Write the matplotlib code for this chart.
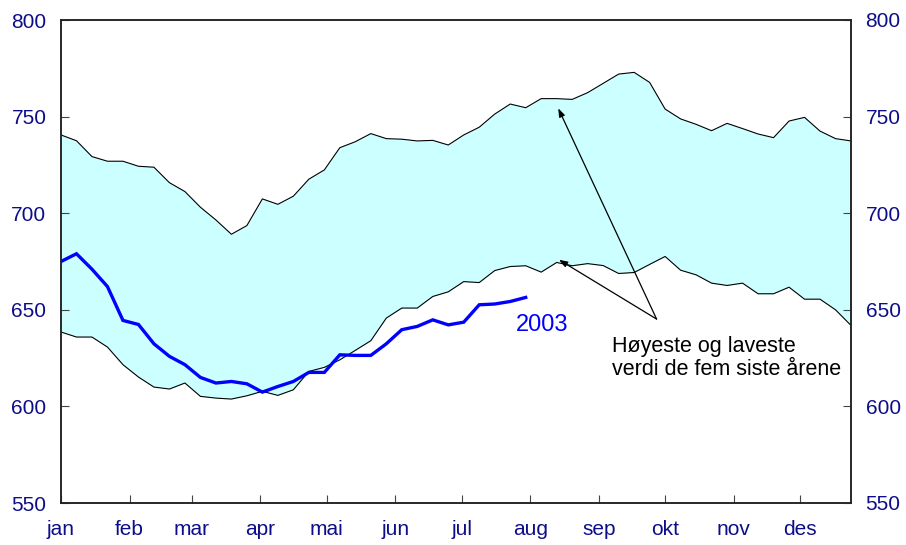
import numpy as np
import matplotlib
matplotlib.use("Agg")
import matplotlib.pyplot as plt

plt.rcParams['font.family'] = ['Liberation Sans', 'DejaVu Sans']

# Weekly values, weeks 1-52
upper = [740.5, 737.5, 729.3, 726.9, 726.9, 724.3, 723.8, 715.8, 711.2, 703.1,
         696.5, 689.1, 693.6, 707.4, 704.6, 708.8, 717.6, 722.4, 733.9, 737.0,
         741.2, 738.6, 738.3, 737.4, 737.7, 735.3, 740.5, 744.5, 751.3, 756.5,
         754.6, 759.3, 759.3, 758.9, 762.4, 767.2, 772.0, 772.9, 767.7, 753.9,
         748.8, 746.0, 742.7, 746.5, 743.8, 741.0, 739.1, 747.7, 749.6, 742.5,
         738.6, 737.4]
lower = [638.5, 635.9, 635.9, 630.7, 621.6, 615.2, 610.0, 609.0, 612.1, 605.2,
         604.3, 603.8, 605.5, 607.8, 605.7, 608.6, 618.1, 620.2, 624.1, 629.0,
         634.0, 645.7, 650.9, 650.9, 656.9, 659.3, 664.6, 664.1, 670.3, 672.4,
         672.8, 669.5, 674.5, 672.8, 673.9, 672.9, 668.8, 669.3, 673.5, 677.6,
         670.5, 668.1, 663.8, 662.6, 663.8, 658.3, 658.3, 661.7, 655.5, 655.5,
         650.0, 641.9]
y2003 = [675.0, 679.0, 671.0, 662.0, 644.5, 642.4, 632.4, 625.9, 621.6, 615.0,
         612.1, 612.9, 611.7, 607.4, 610.3, 612.9, 617.6, 617.6, 626.7, 626.4,
         626.4, 632.4, 639.7, 641.4, 644.8, 642.2, 643.6, 652.6, 653.0, 654.3,
         656.4]

months = ["jan", "feb", "mar", "apr", "mai", "jun",
          "jul", "aug", "sep", "okt", "nov", "des"]
month_start_day = [0, 31, 59, 90, 120, 151, 181, 212, 243, 273, 304, 334]
yticks = [550, 600, 650, 700, 750, 800]

navy = "#0d0d8a"
weeks = np.arange(len(upper))
weeks_2003 = np.arange(len(y2003))

fig = plt.figure(figsize=(9.06, 5.45), dpi=100)
ax = fig.add_axes([61 / 906, 1 - 503 / 545, 790 / 906, 483 / 545])

ax.fill_between(weeks, lower, upper, color="#CCFFFF", linewidth=0, zorder=1)
ax.plot(weeks, upper, color="black", lw=0.8, zorder=2)
ax.plot(weeks, lower, color="black", lw=0.8, zorder=2)
ax.plot(weeks_2003, y2003, color="#0000FF", lw=2.4, zorder=3, solid_joinstyle="miter")

ax.set_xlim(0, len(upper) - 1)
ax.set_ylim(550, 800)
ax.set_yticks(yticks)
ax.set_xticks(np.array(month_start_day) / 7)
ax.set_xticklabels(months)

for s in ax.spines.values():
    s.set_color("#222222")
    s.set_linewidth(1.1)

ax.tick_params(axis="y", direction="in", length=6, width=0.8, pad=10.5,
               labelsize=15, labelcolor=navy, color="#444444")
ax.tick_params(axis="x", direction="in", length=6, width=0.8, pad=12,
               labelsize=15, labelcolor=navy, color="#444444")

ax2 = ax.twinx()
ax2.set_ylim(550, 800)
ax2.set_yticks(yticks)
ax2.tick_params(axis="y", direction="in", length=6, width=0.8, pad=10.5,
                labelsize=15, labelcolor=navy, color="#444444")
for s in ax2.spines.values():
    s.set_color("#222222")
    s.set_linewidth(1.1)

ax.text(31.05, 642.2, "2003", color="#0000FF", fontsize=17,
        ha="center", va="center", zorder=5)
ax.text(35.55, 625.0, "Høyeste og laveste\nverdi de fem siste årene",
        color="black", fontsize=15.5, ha="left", va="center",
        linespacing=1.15, zorder=5)

tail = (38.45, 645.2)
arrow = dict(arrowstyle="-|>,head_length=0.5,head_width=0.18",
             color="black", lw=0.9, shrinkA=0, shrinkB=0)
ax.annotate("", xy=(32.1, 754.3), xytext=tail, arrowprops=arrow, zorder=6)
ax.annotate("", xy=(32.15, 675.9), xytext=tail, arrowprops=arrow, zorder=6)

fig.savefig("out.png", dpi=100)
